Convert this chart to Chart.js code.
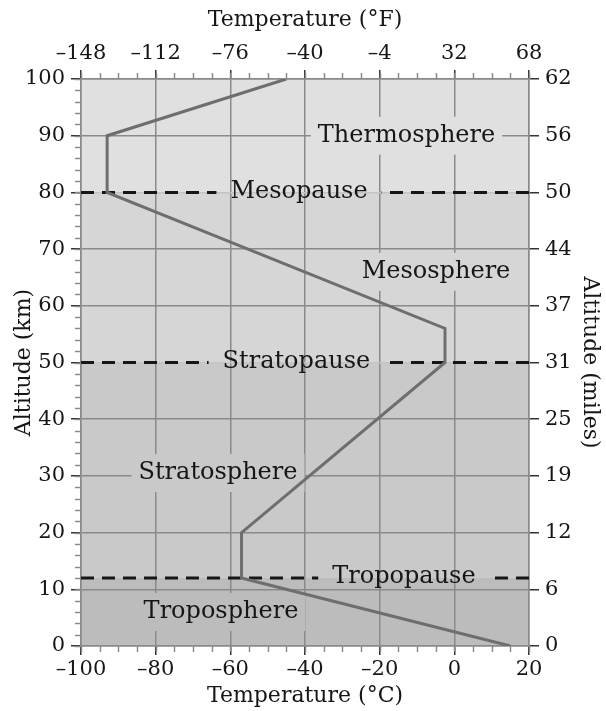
<!DOCTYPE html>
<html>
<head>
<meta charset="utf-8">
<script src="https://cdn.jsdelivr.net/npm/chart.js@4.4.1/dist/chart.umd.min.js"></script>
<style>
  html, body { margin: 0; padding: 0; background: #fff; }
</style>
</head>
<body>
<canvas id="atmosChart" width="606" height="711"></canvas>
<script>
// temperature profile of the standard atmosphere
var tempC = [15, -57, -57, -2.5, -2.5, -93, -93, -45];
var altKm = [0, 12, 20, 50, 56, 80, 90, 100];

// axis tick labels
var celsiusTicks = [-100, -80, -60, -40, -20, 0, 20];
var fahrenheitTicks = [-148, -112, -76, -40, -4, 32, 68];
var kmTicks = [0, 10, 20, 30, 40, 50, 60, 70, 80, 90, 100];
var mileTicks = [0, 6, 12, 19, 25, 31, 37, 44, 50, 56, 62];

// layers and boundaries
var layerNames = ['Troposphere', 'Stratosphere', 'Mesosphere', 'Thermosphere'];
var layerTops = [12, 50, 80, 100];
var pauseNames = ['Tropopause', 'Stratopause', 'Mesopause'];
var pauseAlt = [12, 50, 80];

var SERIF = "'DejaVu Serif', serif";
var layerFill = ['#bcbcbc', '#c9c9c9', '#d6d6d6', '#e0e0e0'];
var layerLabelAt = [[-62.5, 6], [-63.3, 30.5], [-4.9, 66], [-12.8, 90]];
var pauseLabelX = [-13.5, -42.3, -41.6];
var GRID = '#8a8a8a';

function dash(v) {
    return v < 0 ? '\u2013' + Math.abs(v) : String(v);
}

function fixedTicks(list) {
    return function (scale) {
        scale.ticks = list.map(function (v) { return { value: v }; });
    };
}

var points = tempC.map(function (t, i) { return { x: t, y: altKm[i] }; });

// shaded layers, drawn under the grid
var bandsPlugin = {
    id: 'bands',
    beforeDraw: function (chart) {
        var ctx = chart.ctx, xs = chart.scales.x, ys = chart.scales.y;
        var left = xs.getPixelForValue(-100), right = xs.getPixelForValue(20);
        var bottom = 0;
        ctx.save();
        for (var i = 0; i < layerTops.length; i++) {
            var y0 = ys.getPixelForValue(bottom), y1 = ys.getPixelForValue(layerTops[i]);
            ctx.fillStyle = layerFill[i];
            ctx.fillRect(left, y1, right - left, y0 - y1);
            bottom = layerTops[i];
        }
        ctx.restore();
    }
};

// minor ticks on left, top and bottom axes
var minorTicksPlugin = {
    id: 'minorTicks',
    afterDraw: function (chart) {
        var ctx = chart.ctx, xs = chart.scales.x, ys = chart.scales.y, a = chart.chartArea;
        ctx.save();
        ctx.strokeStyle = GRID;
        ctx.lineWidth = 1.5;
        ctx.beginPath();
        for (var k = 0; k <= 100; k += 2) {
            var py = Math.round(ys.getPixelForValue(k)) + 0.5;
            ctx.moveTo(a.left - 6, py);
            ctx.lineTo(a.left, py);
        }
        for (var t = -100; t <= 20; t += 5) {
            var px = Math.round(xs.getPixelForValue(t)) + 0.5;
            ctx.moveTo(px, a.top - 6);
            ctx.lineTo(px, a.top);
            ctx.moveTo(px, a.bottom);
            ctx.lineTo(px, a.bottom + 6);
        }
        ctx.stroke();
        ctx.restore();
    }
};

// dashed boundary lines and layer names, all under the profile line
var labelsPlugin = {
    id: 'layerLabels',
    beforeDatasetsDraw: function (chart) {
        var ctx = chart.ctx, xs = chart.scales.x, ys = chart.scales.y;
        var left = xs.getPixelForValue(-100), right = xs.getPixelForValue(20);
        ctx.save();
        ctx.font = '24px ' + SERIF;
        ctx.textAlign = 'center';
        ctx.textBaseline = 'middle';

        for (var i = 0; i < pauseNames.length; i++) {
            var y = ys.getPixelForValue(pauseAlt[i]);
            var cx = xs.getPixelForValue(pauseLabelX[i]);
            var w = ctx.measureText(pauseNames[i]).width;
            var gapL = cx - w / 2 - 14, gapR = cx + w / 2 + 14;
            ctx.strokeStyle = '#161616';
            ctx.lineWidth = 3;
            ctx.setLineDash([13, 8]);
            ctx.beginPath();
            ctx.moveTo(left, y);
            ctx.lineTo(gapL, y);
            ctx.stroke();
            ctx.beginPath();
            ctx.moveTo(right, y);
            ctx.lineTo(gapR, y);
            ctx.stroke();
            ctx.setLineDash([]);
            ctx.fillStyle = '#161616';
            ctx.fillText(pauseNames[i], cx, y - 1);
        }

        for (var j = 0; j < layerNames.length; j++) {
            var lx = xs.getPixelForValue(layerLabelAt[j][0]);
            var ly = ys.getPixelForValue(layerLabelAt[j][1]);
            var lw = ctx.measureText(layerNames[j]).width;
            ctx.fillStyle = layerFill[j];
            ctx.fillRect(lx - lw / 2 - 7, ly - 19, lw + 14, 38);
            ctx.fillStyle = '#161616';
            ctx.fillText(layerNames[j], lx, ly);
        }
        ctx.restore();
    }
};

Chart.defaults.font.family = SERIF;
Chart.defaults.font.size = 21;
Chart.defaults.color = '#161616';

var titleFont = { size: 22 };

var ctx = document.getElementById('atmosChart').getContext('2d');
var atmosChart = new Chart(ctx, {
    type: 'scatter',
    data: {
        datasets: [{
            data: points,
            showLine: true,
            borderColor: '#6e6e6e',
            borderWidth: 3,
            pointRadius: 0,
            fill: false
        }]
    },
    options: {
        responsive: false,
        animation: false,
        layout: { padding: 0 },
        plugins: {
            legend: { display: false },
            tooltip: { enabled: false }
        },
        scales: {
            x: {
                type: 'linear',
                position: 'bottom',
                min: -100,
                max: 20,
                afterBuildTicks: fixedTicks(celsiusTicks),
                afterFit: function (s) { s.height = 65; },
                ticks: { padding: 2, callback: function (v) { return dash(v); } },
                grid: { color: GRID, lineWidth: 1.5, tickLength: 9, tickColor: '#333' },
                border: { color: GRID, width: 1.5 },
                title: { display: true, text: 'Temperature (°C)', font: titleFont, padding: { top: 0, bottom: 2 } }
            },
            x2: {
                type: 'linear',
                position: 'top',
                min: -100,
                max: 20,
                afterBuildTicks: fixedTicks(celsiusTicks),
                afterFit: function (s) { s.height = 79; },
                ticks: {
                    padding: 4,
                    callback: function (v, i) { return dash(fahrenheitTicks[i]); }
                },
                grid: { drawOnChartArea: false, lineWidth: 1.5, tickLength: 9, tickColor: '#333' },
                border: { color: GRID, width: 1.5 },
                title: { display: true, text: 'Temperature (°F)', font: titleFont, padding: { top: 7, bottom: 0 } }
            },
            y: {
                type: 'linear',
                position: 'left',
                min: 0,
                max: 100,
                afterBuildTicks: fixedTicks(kmTicks),
                afterFit: function (s) { s.width = 81; },
                ticks: { padding: 6, callback: function (v) { return dash(v); } },
                grid: {
                    color: function (c) {
                        return pauseAlt.indexOf(c.tick && c.tick.value) >= 0 ? '#c4c4c4' : GRID;
                    },
                    lineWidth: 1.5, tickLength: 10, tickColor: '#333'
                },
                border: { color: GRID, width: 1.5 },
                title: { display: true, text: 'Altitude (km)', font: titleFont, padding: { top: 11, bottom: 0 } }
            },
            y2: {
                type: 'linear',
                position: 'right',
                min: 0,
                max: 100,
                afterBuildTicks: fixedTicks(kmTicks),
                afterFit: function (s) { s.width = 77; },
                ticks: {
                    padding: 6,
                    callback: function (v, i) { return dash(mileTicks[i]); }
                },
                grid: { drawOnChartArea: false, lineWidth: 1.5, tickLength: 10, tickColor: '#333' },
                border: { color: GRID, width: 1.5 },
                title: { display: true, text: 'Altitude (miles)', font: titleFont, padding: { top: 3, bottom: 0 } }
            }
        }
    },
    plugins: [bandsPlugin, labelsPlugin, minorTicksPlugin]
});
</script>
</body>
</html>
